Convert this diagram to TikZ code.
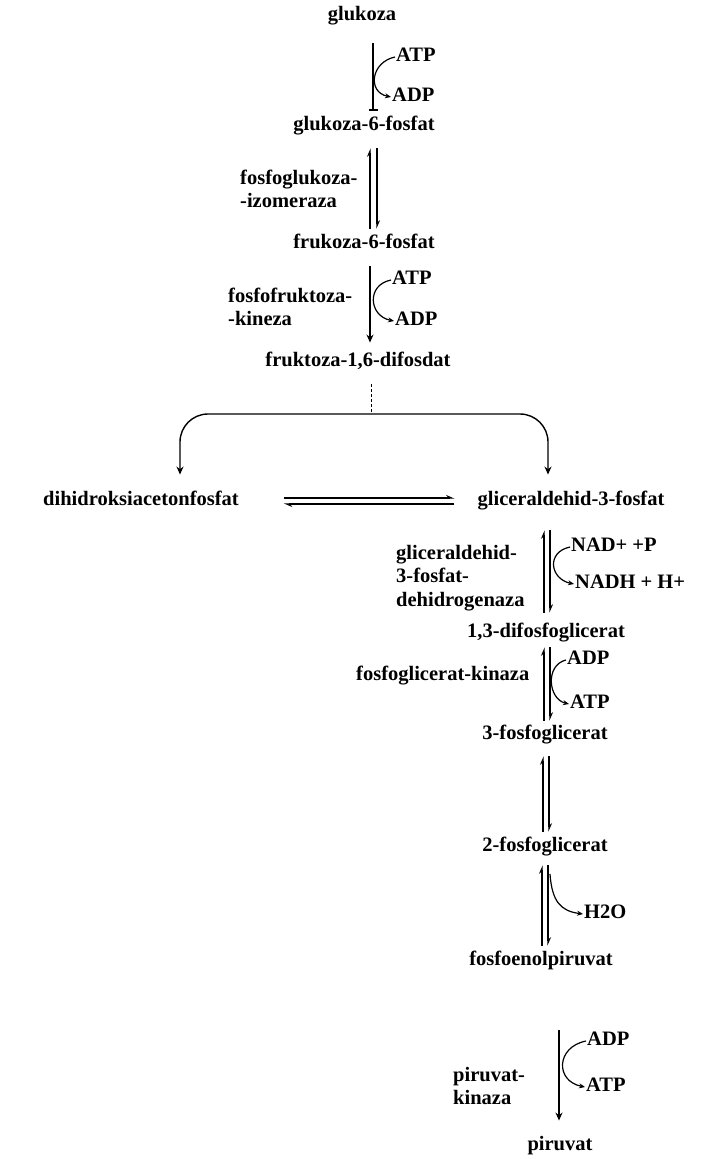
\documentclass[tikz,border=0pt]{standalone}
\usepackage{fontspec}
\setmainfont{Liberation Serif}
\usetikzlibrary{arrows.meta}

\tikzset{
  met/.style={font=\bfseries\fontsize{20.5}{23.5}\selectfont, inner sep=1pt, text height=14pt, text depth=4.5pt},
  cof/.style={met, anchor=west},
  enz/.style={font=\bfseries\fontsize{20.5}{23.5}\selectfont, inner sep=1pt, align=left, anchor=west},
  rxn/.style={line width=1.4pt},
  eq/.style={line width=1.1pt, -{Stealth[left,length=7pt,width=6pt]}},
  side/.style={line width=1.2pt, -{Stealth[length=6pt,width=5pt]}},
  tip/.style={-{Stealth[length=8pt,width=7pt]}},
}

\begin{document}
\begin{tikzpicture}[x=1pt,y=-1pt]
\useasboundingbox (0,0) rectangle (727,1159);

% metabolites
\node[met] (glukoza) at (362,16) {glukoza};
\node[met] (g6p) at (364,126) {glukoza-6-fosfat};
\node[met] (f6p) at (364,244) {frukoza-6-fosfat};
\node[met] (f16) at (358,362) {fruktoza-1,6-difosdat};
\node[met] (dhap) at (141,501) {dihidroksiacetonfosfat};
\node[met] (gap) at (571,501) {gliceraldehid-3-fosfat};
\node[met] (bpg) at (546,633) {1,3-difosfoglicerat};
\node[met] (pg3) at (545,735) {3-fosfoglicerat};
\node[met] (pg2) at (545,847) {2-fosfoglicerat};
\node[met] (pep) at (541,961) {fosfoenolpiruvat};
\node[met] (piruvat) at (560,1146) {piruvat};

% cofactors
\node[cof] (atp1) at (395,57) {ATP};
\node[cof] (adp1) at (391,97) {ADP};
\node[cof] (atp2) at (391,280) {ATP};
\node[cof] (adp2) at (394,321) {ADP};
\node[cof] (nad) at (570,547) {NAD+ +P};
\node[cof] (nadh) at (574,584) {NADH + H+};
\node[cof] (adp3) at (566,660) {ADP};
\node[cof] (atp3) at (569,704) {ATP};
\node[cof] (h2o) at (583,914) {H2O};
\node[cof] (adp4) at (586,1041) {ADP};
\node[cof] (atp4) at (585,1087) {ATP};

% enzymes
\node[enz] (pgi) at (239,189) {fosfoglukoza-\\-izomeraza};
\node[enz] (pfk) at (227,307) {fosfofruktoza-\\-kineza};
\node[enz] (gapdh) at (395,578) {gliceraldehid-\\3-fosfat-\\dehidrogenaza};
\node[enz] (pgk) at (355,676) {fosfoglicerat-kinaza};
\node[enz] (pk) at (452,1086) {piruvat-\\kinaza};

% glukoza -> glukoza-6-fosfat
\draw[rxn, -{Bar[width=9pt]}, shorten <=17pt, shorten >=5pt] (glukoza.south -| 373,0) -- (g6p.north -| 373,0);
\draw[side] (atp1.west) .. controls +(-24,5) and +(-24,-5) .. (adp1.west);

% glukoza-6-fosfat <-> frukoza-6-fosfat
\draw[eq, shorten <=5pt, shorten >=12pt] (f6p.north -| 370,0) -- (g6p.south -| 370,0);
\draw[eq, shorten <=12pt, shorten >=5pt] (g6p.south -| 377,0) -- (f6p.north -| 377,0);

% frukoza-6-fosfat -> fruktoza-1,6-difosdat
\draw[rxn, tip, shorten <=12pt, shorten >=9pt] (f6p.south -| 370,0) -- (f16.north -| 370,0);
\draw[side] (atp2.west) .. controls +(-25,5) and +(-25,-5) .. (adp2.west);

% split into the two trioses
\coordinate (split) at (371,414);
\draw[line width=1pt, densely dashed, shorten <=12pt] (f16.south -| 371,0) -- (split);
\draw[rxn, tip, rounded corners=28pt, shorten >=16pt] (split) -| (dhap.north -| 180,0);
\draw[rxn, tip, rounded corners=28pt, shorten >=16pt] (split) -| (gap.north -| 548,0);

% dihidroksiacetonfosfat <-> gliceraldehid-3-fosfat
\draw[eq, shorten <=44pt, shorten >=22pt] ([yshift=3pt]dhap.east) -- ([yshift=3pt]gap.west);
\draw[eq, shorten <=22pt, shorten >=44pt] ([yshift=-3pt]gap.west) -- ([yshift=-3pt]dhap.east);

% gliceraldehid-3-fosfat <-> 1,3-difosfoglicerat
\draw[eq, shorten <=10pt, shorten >=19pt] (bpg.north -| 544,0) -- (gap.south -| 544,0);
\draw[eq, shorten <=19pt, shorten >=10pt] (gap.south -| 550,0) -- (bpg.north -| 550,0);
\draw[side] (nad.west) .. controls +(-24,5) and +(-24,-5) .. (nadh.west);

% 1,3-difosfoglicerat <-> 3-fosfoglicerat
\draw[eq, shorten <=4pt, shorten >=4pt] (pg3.north -| 544,0) -- (bpg.south -| 544,0);
\draw[eq, shorten <=4pt, shorten >=4pt] (bpg.south -| 550,0) -- (pg3.north -| 550,0);
\draw[side] (adp3.west) .. controls +(-21,5) and +(-21,-5) .. (atp3.west);

% 3-fosfoglicerat <-> 2-fosfoglicerat
\draw[eq, shorten <=5pt, shorten >=11pt] (pg2.north -| 543,0) -- (pg3.south -| 543,0);
\draw[eq, shorten <=11pt, shorten >=5pt] (pg3.south -| 549,0) -- (pg2.north -| 549,0);

% 2-fosfoglicerat <-> fosfoenolpiruvat
\draw[eq, shorten <=5pt, shorten >=8pt] (pep.north -| 542,0) -- (pg2.south -| 542,0);
\draw[eq, shorten <=8pt, shorten >=5pt] (pg2.south -| 548,0) -- (pep.north -| 548,0);
\coordinate (dehyd) at (550,874);
\draw[side] (dehyd) .. controls +(2,28) and +(-22,-3) .. (h2o.west);

% fosfoenolpiruvat -> piruvat
\draw[rxn, tip, shorten <=59pt, shorten >=15pt] (pep.south -| 559,0) -- (piruvat.north -| 559,0);
\draw[side] (adp4.west) .. controls +(-30,6) and +(-30,-6) .. (atp4.west);

\end{tikzpicture}
\end{document}
